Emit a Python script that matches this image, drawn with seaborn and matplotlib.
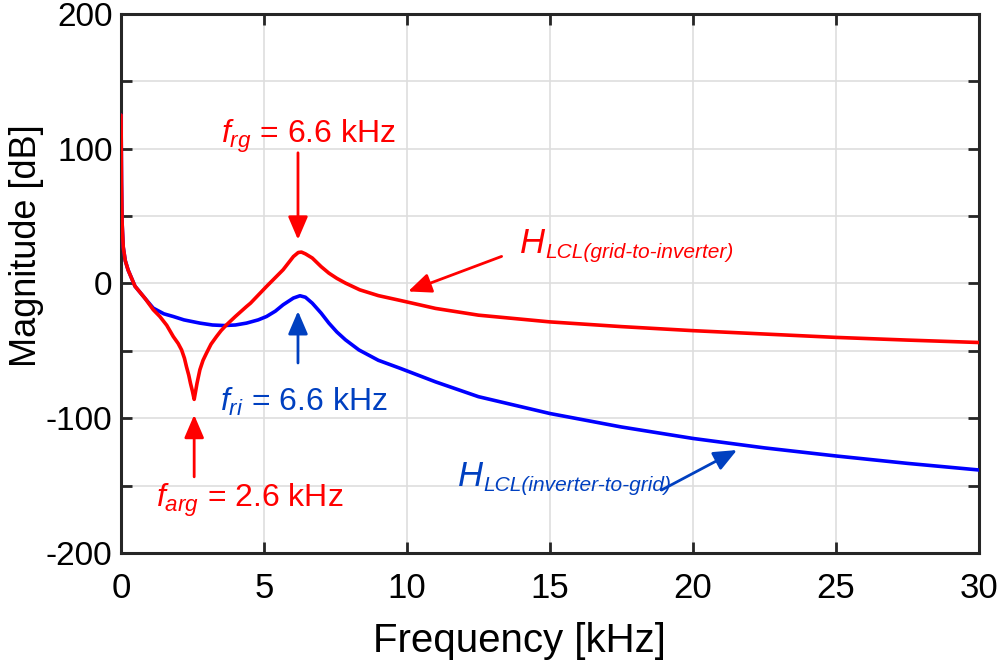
import matplotlib
matplotlib.use('Agg')
import matplotlib.pyplot as plt
from matplotlib import font_manager
import pandas as pd
import seaborn as sns

# low-frequency part where both curves lie on top of each other
f_low = [0.003, 0.02, 0.04, 0.08, 0.15, 0.25, 0.49, 0.84]
mag_low = [125, 75, 45, 27, 17, 10, -2, -11]

# grid-to-inverter (red)
f_red = f_low + [1.13, 1.36, 1.6, 1.83, 2.0, 2.12, 2.22, 2.29, 2.37, 2.43, 2.5, 2.56, 2.61, 2.66,
                 2.76, 2.87, 2.99, 3.15, 3.34, 3.5, 3.69, 4.0, 4.39, 4.53, 5.09, 5.67, 6.03,
                 6.2, 6.31, 6.45, 6.69, 7.0, 7.27, 7.55, 7.85, 8.35, 9.0, 9.77, 11, 12.5, 15,
                 17.5, 20, 22.5, 25, 27.5, 30]
mag_red = mag_low + [-19.5, -24.5, -31, -39.4, -44.5, -49.3, -55.5, -61.7, -68, -74, -80, -86,
                     -80, -74, -64, -57, -51.7, -45, -39.4, -35, -30.7, -24.5, -17.1, -14.6,
                     -2.2, 10.2, 20, 23, 23.3, 22, 18.9, 12.5, 7.7, 3.8, 0.3, -4.7, -9, -12.6,
                     -18.5, -23.5, -28.5, -32, -35, -37.5, -40, -42, -43.8]

# inverter-to-grid (blue)
f_blue = f_low + [1.13, 1.5, 1.83, 2.2, 2.76, 3.2, 3.6, 4.0, 4.39, 4.8, 5.09, 5.4, 5.67, 6.03,
                  6.26, 6.45, 6.69, 7.0, 7.27, 7.55, 7.85, 8.32, 9.0, 9.77, 11, 12.5, 15, 17.5,
                  20, 22.5, 25, 27.5, 30]
mag_blue = mag_low + [-18.3, -22.5, -24.5, -27, -29.4, -30.8, -31.2, -30.8, -29.4, -27, -24.5,
                      -20.5, -15.8, -10.8, -9.1, -10.2, -14.6, -22, -29.4, -36, -41.8, -49.3,
                      -57, -63, -73, -84, -96.5, -106.5, -115, -122, -128, -133.5, -138.4]

x_ticks = [0, 5, 10, 15, 20, 25, 30]
y_ticks = [-200, -150, -100, -50, 0, 50, 100, 150, 200]

RED = '#ff0000'
BLUE = '#0000ff'
BLUE_TXT = '#0040c0'

sns.set_style('ticks')
names = {f.name for f in font_manager.fontManager.ttflist}
base = 'Liberation Sans' if 'Liberation Sans' in names else 'DejaVu Sans'
plt.rcParams['font.family'] = [base, 'DejaVu Sans']
plt.rcParams['mathtext.fontset'] = 'custom'
plt.rcParams['mathtext.rm'] = base
plt.rcParams['mathtext.it'] = base + ':italic'
plt.rcParams['text.color'] = 'black'
plt.rcParams['axes.labelcolor'] = 'black'

df_red = pd.DataFrame({'f': f_red, 'mag': mag_red})
df_blue = pd.DataFrame({'f': f_blue, 'mag': mag_blue})

fig = plt.figure(figsize=(9.98, 6.64), dpi=100)
ax = fig.add_axes([0.1212, 0.1672, 0.8597, 0.8117])

sns.lineplot(data=df_blue, x='f', y='mag', color=BLUE, lw=2.6, estimator=None, ax=ax, zorder=3)
sns.lineplot(data=df_red, x='f', y='mag', color=RED, lw=2.6, estimator=None, ax=ax, zorder=4)

ax.set_xlim(0, 30)
ax.set_ylim(-200, 200)
ax.set_xticks(x_ticks)
ax.set_yticks(y_ticks)
ax.set_yticklabels([str(v) if v % 100 == 0 else '' for v in y_ticks])
ax.grid(True, color='#dedede', lw=1.2)
ax.tick_params(direction='in', length=8, width=2, top=True, right=True, color='#262626',
               labelcolor='black')
ax.tick_params(axis='y', labelsize=24, pad=6)
ax.tick_params(axis='x', labelsize=25, pad=14)
for s in ax.spines.values():
    s.set_linewidth(2.2)
    s.set_color('#262626')

ax.set_xlabel('Frequency [kHz]', fontsize=29)
ax.set_ylabel('Magnitude [dB]', fontsize=26)
ax.xaxis.set_label_coords(0.465, -0.128)
ax.yaxis.set_label_coords(-0.09, 0.57)

arrow = dict(arrowstyle='-|>,head_length=0.7,head_width=0.3', lw=2, mutation_scale=20,
             shrinkA=0, shrinkB=0)

# resonance / antiresonance markers
ax.text(6.55, 109, r'$f_{rg}$ = 6.6 kHz', ha='center', va='center', color=RED, fontsize=23)
ax.annotate('', xy=(6.19, 32.5), xytext=(6.19, 97), arrowprops=dict(arrow, color=RED))

ax.text(6.4, -88, r'$f_{ri}$ = 6.6 kHz', ha='center', va='center', color=BLUE_TXT, fontsize=23)
ax.annotate('', xy=(6.19, -20.5), xytext=(6.19, -59), arrowprops=dict(arrow, color=BLUE_TXT))

ax.text(4.5, -161, r'$f_{arg}$ = 2.6 kHz', ha='center', va='center', color=RED, fontsize=23)
ax.annotate('', xy=(2.56, -97.5), xytext=(2.56, -143.5), arrowprops=dict(arrow, color=RED))

# curve names
h1 = ax.text(13.95, 23, 'H', style='italic', fontsize=25, color=RED, va='baseline')
ax.annotate('LCL(grid-to-inverter)', xy=(1, 0), xycoords=h1, xytext=(0, -2),
            textcoords='offset points', va='bottom', ha='left', style='italic',
            fontsize=15, color=RED)
ax.annotate('', xy=(10.04, -5.9), xytext=(13.31, 20.1), arrowprops=dict(arrow, color=RED))

h2 = ax.text(11.8, -150, 'H', style='italic', fontsize=25, color=BLUE_TXT, va='baseline')
ax.annotate('LCL(inverter-to-grid)', xy=(1, 0), xycoords=h2, xytext=(0, -2),
            textcoords='offset points', va='bottom', ha='left', style='italic',
            fontsize=15, color=BLUE_TXT)
ax.annotate('', xy=(21.54, -123.6), xytext=(18.9, -153.3), arrowprops=dict(arrow, color=BLUE_TXT))

fig.savefig('out.png', dpi=100)
